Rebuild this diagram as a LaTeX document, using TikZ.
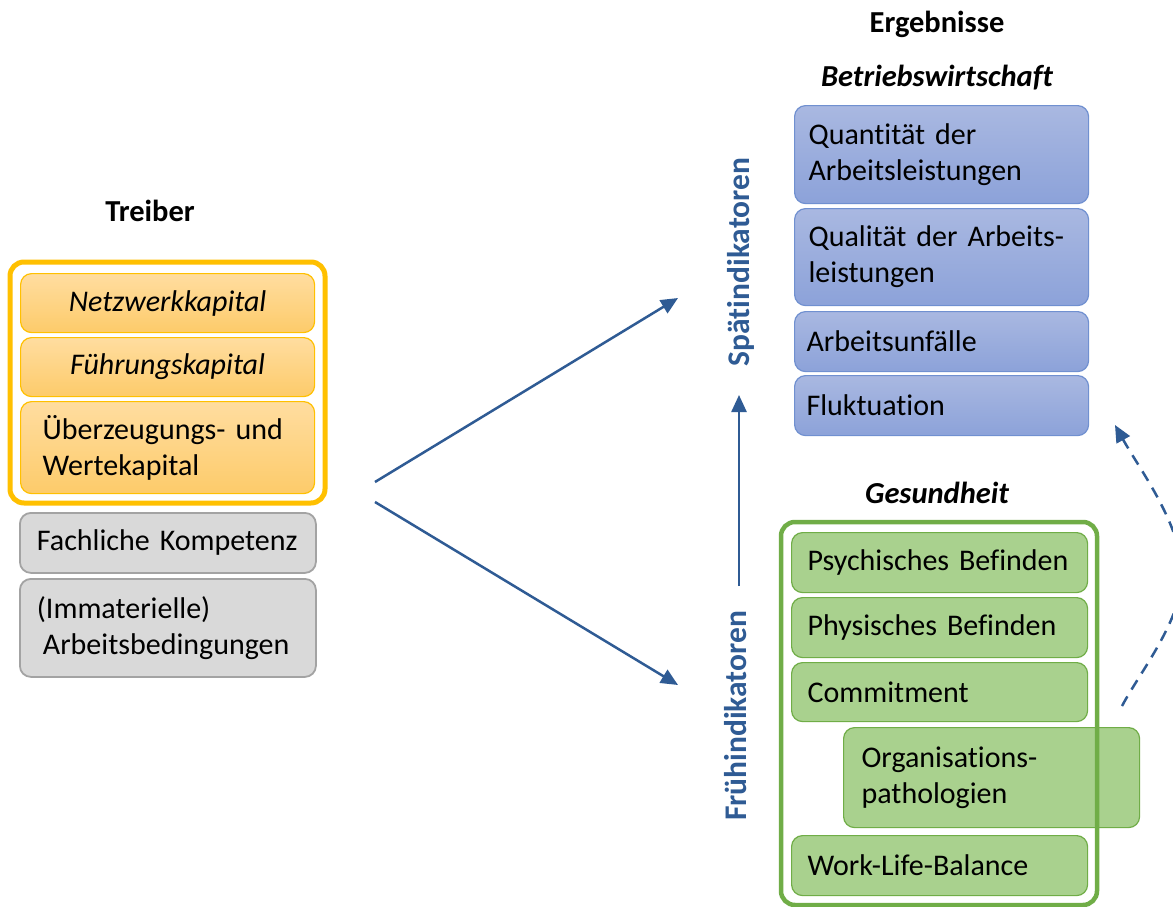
\documentclass[tikz,border=0pt]{standalone}
\usepackage{fontspec}
\setmainfont{Carlito}[WordSpace=0.9, Ligatures=NoCommon]
\usetikzlibrary{arrows.meta}
\definecolor{arrowblue}{HTML}{2F5B94}
\definecolor{goldframe}{HTML}{FFC000}
\definecolor{goldtop}{HTML}{FFDDA0}
\definecolor{goldbot}{HTML}{FDCB6A}
\definecolor{greyfill}{HTML}{D9D9D9}
\definecolor{greyline}{HTML}{A3A3A3}
\definecolor{bluetop}{HTML}{A9B8E1}
\definecolor{bluebot}{HTML}{8CA2D9}
\definecolor{blueline}{HTML}{7090D0}
\definecolor{greenfill}{HTML}{A9D18E}
\definecolor{greenline}{HTML}{70AD47}
\begin{document}
\begin{tikzpicture}[x=1pt,y=-1pt,
  box/.style={rounded corners=11pt, inner ysep=0pt, anchor=north west, align=left,
    font=\fontsize{30}{36}\selectfont, line width=1.2pt},
  goldbox/.style={box, draw=goldframe, top color=goldtop, bottom color=goldbot},
  greybox/.style={box, draw=greyline, fill=greyfill, line width=1.8pt},
  bluebox/.style={box, draw=blueline, top color=bluetop, bottom color=bluebot},
  greenbox/.style={box, draw=greenline, fill=greenfill},
  frame/.style={rounded corners=14pt, line width=5pt},
  heading/.style={font=\fontsize{30.5}{34}\selectfont\bfseries},
  indic/.style={font=\fontsize{31.5}{34}\selectfont\bfseries, text=arrowblue, rotate=90},
  conn/.style={draw=arrowblue, line width=2.5pt, -{Triangle[length=17pt,width=15pt]}},
  dconn/.style={conn, dash pattern=on 11pt off 8pt}
]
\clip (0,0) rectangle (1173,907);
\fill[white] (0,0) rectangle (1173,907);

% headings
\node[heading] (ergebnisse) at (937,24) {Ergebnisse};
\node[heading, font=\fontsize{30.5}{34}\selectfont\bfseries\itshape] (betrieb) at (937,78) {Betriebswirtschaft};
\node[heading] (treiber) at (150,211) {Treiber};
\node[heading, font=\fontsize{30.5}{34}\selectfont\bfseries\itshape] (gesund) at (937,493) {Gesundheit};

% left column
\node[goldbox, text width=294pt, inner xsep=0pt, align=center, minimum height=59pt, font=\fontsize{30}{36}\selectfont\itshape] (netz) at (20,273) {Netzwerkkapital};
\node[goldbox, text width=294pt, inner xsep=0pt, align=center, minimum height=59pt, font=\fontsize{30}{36}\selectfont\itshape] (fuehr) at (20,337) {Führungskapital};
\node[goldbox, inner xsep=22pt, text width=250pt, minimum height=92pt] (ueber) at (20,401) {Überzeugungs- und\\Wertekapital};
\draw[frame, draw=goldframe] (10,262) rectangle (325,503);
\node[greybox, inner xsep=17pt, text width=262pt, minimum height=60pt] (fach) at (19,512) {Fachliche Kompetenz};
\node[greybox, inner xsep=17pt, text width=262pt, minimum height=98pt] (immat) at (19,578) {(Immaterielle)\\\hspace*{6pt}Arbeitsbedingungen};

% right top column
\node[bluebox, inner xsep=14pt, text width=266pt, minimum height=98pt] (quant) at (794,105) {Quantität der\\Arbeitsleistungen};
\node[bluebox, inner xsep=14pt, text width=266pt, minimum height=97pt] (qual) at (794,208) {Qualität der Arbeits-\\leistungen};
\node[bluebox, inner xsep=12pt, text width=270pt, minimum height=60pt] (unfall) at (794,311) {Arbeitsunfälle};
\node[bluebox, inner xsep=12pt, text width=270pt, minimum height=60pt] (fluk) at (794,375) {Fluktuation};

% right bottom column
\node[greenbox, inner xsep=16pt, text width=264pt, minimum height=60pt] (psych) at (791,532) {Psychisches Befinden};
\node[greenbox, inner xsep=16pt, text width=264pt, minimum height=60pt] (phys) at (791,597) {Physisches Befinden};
\node[greenbox, inner xsep=16pt, text width=264pt, minimum height=59pt] (commit) at (791,662) {Commitment};
\node[greenbox, inner xsep=18pt, text width=260pt, minimum height=100pt] (orga) at (843,727) {Organisations-\\pathologien};
\node[greenbox, inner xsep=16pt, text width=264pt, minimum height=60pt] (wlb) at (791,835) {Work-Life-Balance};
\draw[frame, draw=greenline, line width=4.5pt] (781,522) rectangle (1097,905);

% indicator labels
\node[indic] (spaet) at (741,262) {Spätindikatoren};
\node[indic] (frueh) at (736,716) {Frühindikatoren};

% connectors
\coordinate (s1) at (375,482);
\coordinate (e1) at (678,298);
\coordinate (s2) at (375,502);
\coordinate (e2) at (678,685);
\coordinate (vs) at (739,586);
\coordinate (ve) at (739,395);
\coordinate (ds) at (1122,706);
\coordinate (dm) at (1182,575);
\coordinate (de) at (1115,425);
\draw[conn] (s1) -- (e1);
\draw[conn] (s2) -- (e2);
\draw[conn] (vs) -- (ve);
\draw[dconn] (ds) .. controls (1140,672) and (1182,620) .. (dm)
  .. controls (1182,525) and (1140,470) .. (de);
\end{tikzpicture}
\end{document}
